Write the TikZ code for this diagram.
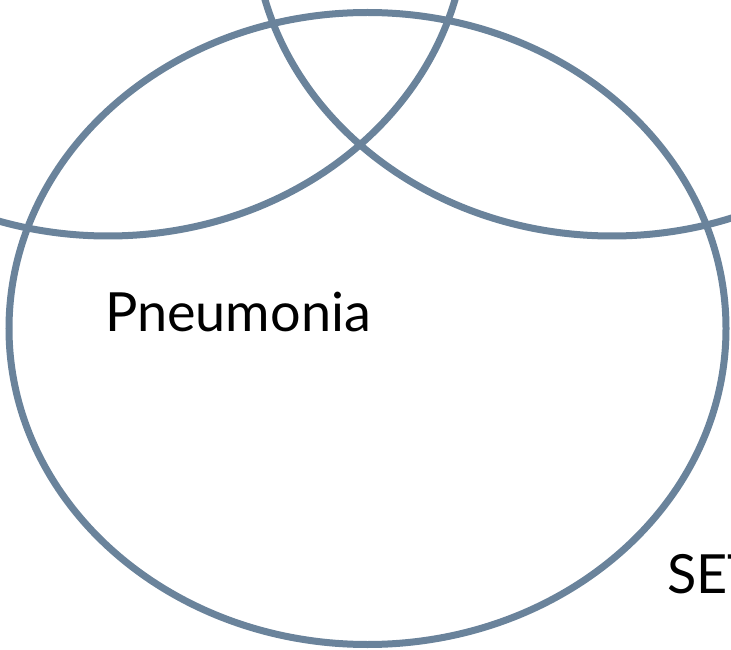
\documentclass[tikz,border=0pt]{standalone}
\usepackage{fontspec}
\setmainfont{Lato}
\usepackage{tikz}
\usetikzlibrary{calc, positioning}
\usepackage{xcolor}
\definecolor{vennslate}{RGB}{106,131,155}
\tikzset{
    vennring/.style={draw=vennslate, line width=7pt},
    setlabel/.style={font=\fontsize{54}{60}\selectfont, anchor=base west, inner sep=0pt}
}

\begin{document}
\begin{tikzpicture}[x=1pt,y=1pt]
            \useasboundingbox (0,0) rectangle (731,649);
            \clip (0,0) rectangle (731,649);
            % Rings (the two upper ones run off the page)
            \draw[vennring] (367.5,320.5) ellipse [x radius=358.5, y radius=316];
            \draw[vennring] (108,729) ellipse [x radius=358.5, y radius=316];
            \draw[vennring] (612,729) ellipse [x radius=358.5, y radius=316];
            
            % Labels
            \node[setlabel] (pneu) at (105,318) {Pneumonia};
            \node[setlabel] (sets) at (667,56) {SET};
        \end{tikzpicture}
\end{document}
